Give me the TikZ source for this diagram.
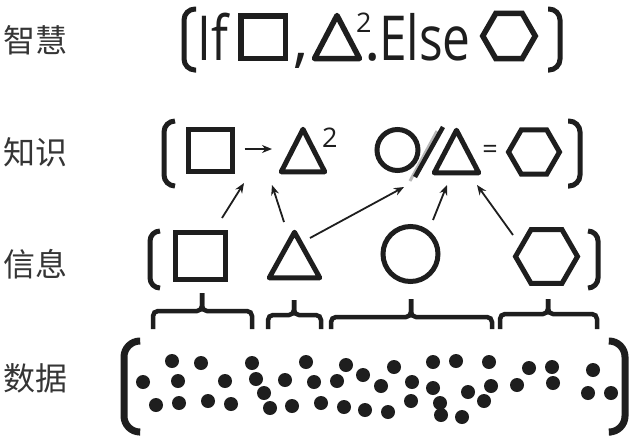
\documentclass[tikz,border=0pt]{standalone}
\usepackage{fontspec}
\newfontfamily\cjk{Noto Sans CJK SC}
\newfontfamily\opensans{Open Sans}
\usetikzlibrary{arrows.meta,shapes.geometric}
\definecolor{ink}{HTML}{1E1E1E}

\begin{document}
\begin{tikzpicture}[x=1pt, y=-1pt, >={Stealth[length=10pt,width=8pt]},
  lvl/.style={font=\cjk\fontsize{32}{32}\selectfont, text=ink!90, inner sep=0pt, anchor=west},
  sq/.style={draw=ink, line width=5pt, rectangle, inner sep=0pt},
  tribox/.style={rectangle, inner sep=0pt, outer sep=0pt},
  tri/.style={draw=ink, line width=5pt, line join=round},
  hex/.style={draw=ink, line width=5pt, regular polygon, regular polygon sides=6, inner sep=0pt},
  circ/.style={draw=ink, line width=5pt, circle, inner sep=0pt},
  bigtxt/.style={font=\opensans\fontsize{62}{62}\selectfont, text=ink, inner sep=0pt, anchor=base west},
  suptxt/.style={font=\opensans\fontsize{27}{27}\selectfont, text=ink, inner sep=0pt, anchor=base west},
  brk/.style={draw=ink, line width=5pt, rounded corners=11pt},
  brace/.style={draw=ink, line width=4.5pt, rounded corners=5pt},
  link/.style={->, draw=ink, line width=1.8pt}]

  \fill[white] (0,0) rectangle (631,440);
  \useasboundingbox (0,0) rectangle (631,440);

  % Level names
  \node[lvl] (wis) at (3,40) {智慧};
  \node[lvl] (kno) at (3,152) {知识};
  \node[lvl] (inf) at (3,264) {信息};
  \node[lvl] (dat) at (3,378) {数据};

  % Wisdom
  \draw[brk] (196,9) -- (184,9) -- (184,70) -- (196,70);
  \draw[brk] (548,9) -- (560,9) -- (560,70) -- (548,70);
  \node[bigtxt] (wif) at (197,60) {\scalebox{0.8}[1]{If}};
  \node[sq, line width=5.5pt, minimum width=44.5pt, minimum height=42.5pt] (wsq) at (263,37) {};
  \node[bigtxt] (wcomma) at (293,60) {,};
  \node[tribox, minimum width=45pt, minimum height=43pt] (wtri) at (337,37) {};
  \draw[tri, line width=5.5pt] (wtri.south west) -- (wtri.north) -- (wtri.south east) -- cycle;
  \node[suptxt] (wsup) at (356,32) {2};
  \node[bigtxt] (wdot) at (364,60) {.};
  \node[bigtxt] (welse) at (379,60) {\scalebox{0.8}[1]{Else}};
  \node[hex, line width=5.5pt, minimum size=52.5pt] (whex) at (509,36) {};

  % Knowledge
  \draw[brk] (175,121) -- (164,121) -- (164,186) -- (175,186);
  \draw[brk] (568,121) -- (580,121) -- (580,186) -- (568,186);
  \node[sq, minimum width=44pt, minimum height=42pt] (ksq) at (210.5,150.5) {};
  \node[tribox, minimum width=43.5pt, minimum height=42.5pt] (ktri) at (303,150.5) {};
  \draw[tri] (ktri.south west) -- (ktri.north) -- (ktri.south east) -- cycle;
  \node[suptxt] (ksup) at (322,147) {2};
  \node[circ, minimum size=41pt] (kcirc) at (397.5,150) {};
  \node[tribox, minimum width=44.5pt, minimum height=42.5pt] (ktri2) at (456.5,151.5) {};
  \draw[tri] (ktri2.south west) -- (ktri2.north) -- (ktri2.south east) -- cycle;
  \node[suptxt, anchor=center] (keq) at (490,151.5) {=};
  \node[hex, minimum size=51pt] (khex) at (534,152) {};
  \draw[->, draw=ink, line width=2pt] ([shift={(34,-1.5)}]ksq.center) -- ([shift={(-31,-1.5)}]ktri.center);
  \draw[line width=3pt, draw=gray!55] (410,181) -- (437,131);
  \draw[line width=4.5pt, draw=ink] (415,177) -- (443,127);

  % Information
  \draw[brk, rounded corners=10pt] (160,231) -- (150,231) -- (150,288) -- (160,288);
  \draw[brk, rounded corners=10pt] (588,231) -- (598,231) -- (598,288) -- (588,288);
  \node[sq, minimum width=50pt, minimum height=47pt] (isq) at (200.5,256) {};
  \node[tribox, minimum width=50.5pt, minimum height=45.5pt] (itri) at (294.5,255) {};
  \draw[tri] (itri.south west) -- (itri.north) -- (itri.south east) -- cycle;
  \node[circ, minimum size=55pt] (icirc) at (410.5,254) {};
  \node[hex, minimum size=62pt] (ihex) at (546.5,256.5) {};

  % Information -> knowledge
  \draw[link] ([shift={(21.5,-38)}]isq.center) -- ([shift={(33.5,32.5)}]ksq.center);
  \draw[link] ([shift={(-10.5,-33)}]itri.center) -- ([shift={(-31,34.5)}]ktri.center);
  \draw[link] ([shift={(15.5,-17)}]itri.center) -- ([shift={(6.5,37)}]kcirc.center);
  \draw[link] ([shift={(22.5,-34)}]icirc.center) -- ([shift={(-9.5,33.5)}]ktri2.center);
  \draw[link] ([shift={(-33.5,-21.5)}]ihex.center) -- ([shift={(20.5,33.5)}]ktri2.center);

  % Braces over the data
  \foreach \xa/\xm/\xb/\yh/\yt in {153/202/252/311/293, 268/294/321/315/300,
      331/411/492/317/299, 500/548/597/314/299}{
    \draw[brace] (\xa,329) -- (\xa,\yh) -- (\xm,\yh) -- (\xm,\yt);
    \draw[brace] (\xb,329) -- (\xb,\yh) -- (\xm,\yh) -- (\xm,\yt);
  }

  % Data
  \draw[brk, line width=7pt, rounded corners=16pt] (139,341) -- (124,341) -- (124,432) -- (139,432);
  \draw[brk, line width=7pt, rounded corners=16pt] (611,341) -- (625,341) -- (625,432) -- (611,432);
  \foreach \x/\y in {143/382, 172/361, 178/381, 156/405, 179/403, 201/363, 208/401,
      225/381, 231/404, 252/363, 256/379, 264/393, 270/408, 285/380, 292/406,
      306/362, 314/382, 321/403, 337/381, 346/365, 344/407, 363/375, 365/410,
      381/386, 394/367, 388/412, 412/382, 411/401, 433/362, 433/388, 440/403,
      441/415, 456/361, 468/392, 462/417, 489/362, 491/386, 484/401, 517/385,
      529/368, 552/367, 553/383, 593/370, 588/393, 611/393}
    \fill[ink] (\x,\y) circle (7pt);

\end{tikzpicture}
\end{document}
